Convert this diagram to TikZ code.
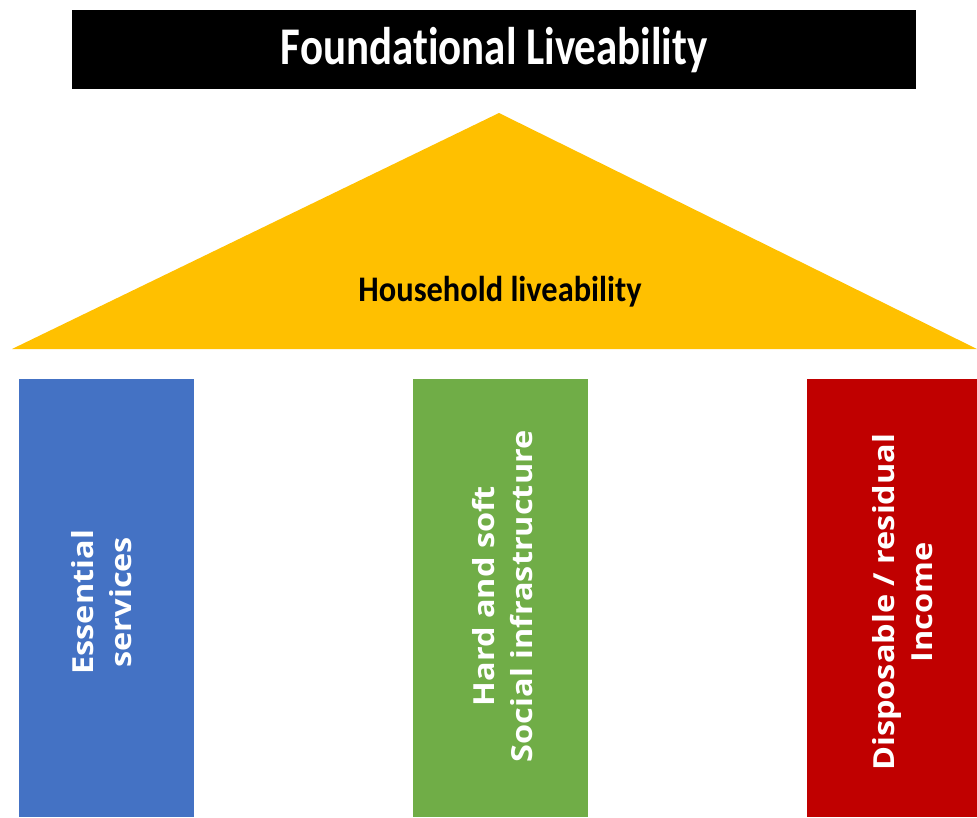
\documentclass[tikz,border=0pt]{standalone}
\usepackage{fontspec}
\setmainfont[Ligatures=CommonOff]{Carlito}
\newfontfamily\pillarfont{Open Sans}
\usetikzlibrary{positioning}

\definecolor{roofyellow}{RGB}{255,192,0}
\definecolor{pillarblue}{RGB}{68,114,196}
\definecolor{pillargreen}{RGB}{112,173,71}
\definecolor{pillarred}{RGB}{192,0,0}

\newcommand{\stretchline}[1]{\scalebox{1.12}[1]{#1}}

\begin{document}
\begin{tikzpicture}[x=1pt, y=-1pt,
    pillar/.style={anchor=north west, minimum width=175pt, minimum height=438pt, inner sep=0pt},
    pillartext/.style={rotate=90, text=white, align=center, inner sep=0pt,
      font=\pillarfont\fontsize{29}{38}\selectfont\bfseries}]
    \useasboundingbox (0,0) rectangle (977,817);

    % title bar
    \node[fill=black, anchor=north west, minimum width=844pt, minimum height=79pt,
      inner sep=0pt] (title) at (72,10) {};
    \node[text=white, font=\fontsize{53}{60}\selectfont\bfseries] (titletext) at (title.center)
      {\scalebox{0.81}[1]{Foundational Liveability}};

    % roof
    \coordinate (roofleft) at (12,349);
    \coordinate (roofapex) at (499,113);
    \coordinate (roofright) at (977,349);
    \fill[roofyellow] (roofleft) -- (roofapex) -- (roofright) -- cycle;
    \node[font=\fontsize{36}{40}\selectfont\bfseries] (household) at (500,292)
      {\scalebox{0.9}[1]{Household liveability}};

    % pillars
    \node[pillar, fill=pillarblue] (essential) at (19,379) {};
    \node[pillar, fill=pillargreen] (infra) at (413,379) {};
    \node[pillar, fill=pillarred, minimum width=170pt] (income) at (807,379) {};

    \node[pillartext] (essentialtext) at ([xshift=-5pt, yshift=-4pt]essential.center)
      {\stretchline{Essential}\\\stretchline{services}};
    \node[pillartext] (infratext) at ([xshift=2pt, yshift=2pt]infra.center)
      {\stretchline{Hard and soft}\\\stretchline{Social infrastructure}};
    \node[pillartext] (incometext) at ([xshift=10pt, yshift=-4pt]income.center)
      {\stretchline{Disposable / residual}\\\stretchline{Income}};
\end{tikzpicture}
\end{document}
